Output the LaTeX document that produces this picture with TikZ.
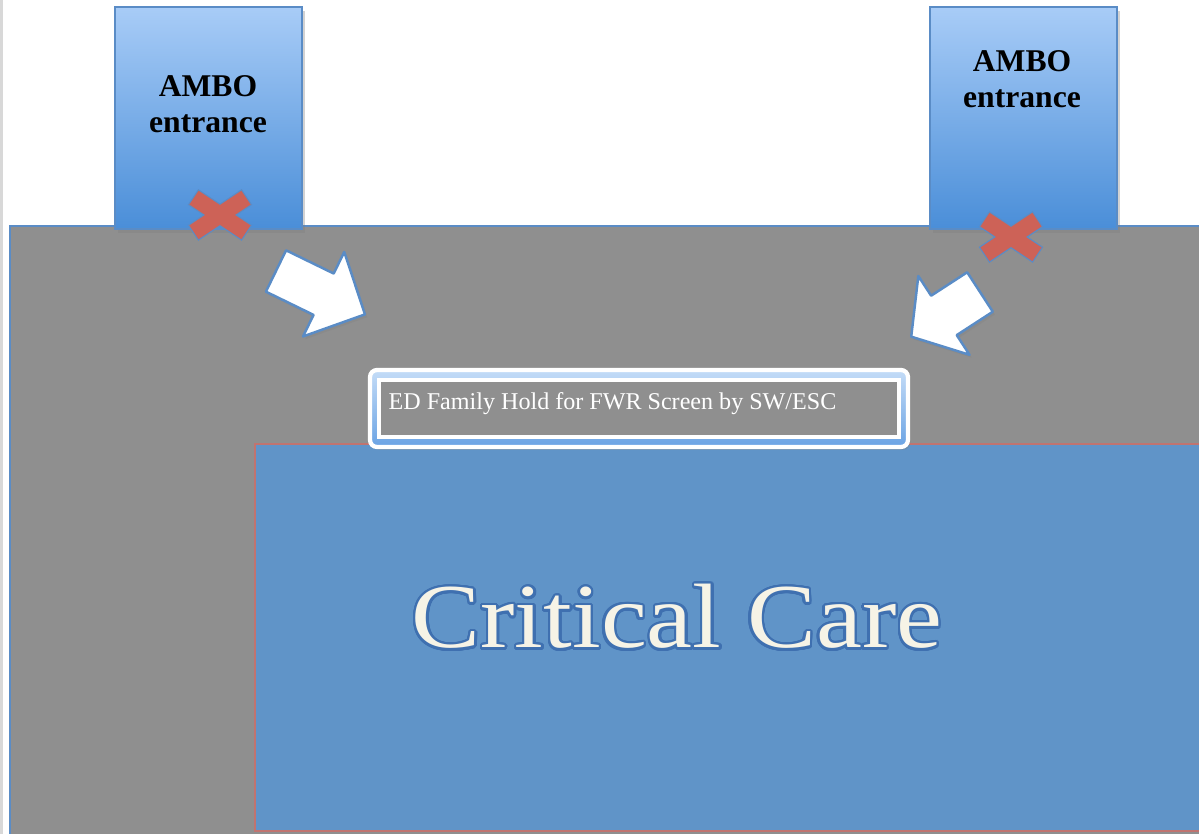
\documentclass[tikz,border=0pt]{standalone}
\usepackage{fontspec}
\setmainfont{Liberation Serif}
\newfontfamily\critfont[FakeStretch=1.13]{Liberation Serif}
\usepackage{xcolor}
\usepackage[copies]{contour}
\contournumber{24}
\usepackage{tikz}
\usetikzlibrary{calc,shadows}
\definecolor{floor}{HTML}{8F8F8F}
\definecolor{edge}{HTML}{5A8CC6}
\definecolor{ambotop}{HTML}{A8CCF7}
\definecolor{ambobot}{HTML}{4A8ED8}
\definecolor{crit}{HTML}{6094C8}
\definecolor{critedge}{HTML}{C07470}
\definecolor{cross}{HTML}{CD6257}
\definecolor{cream}{HTML}{F6F3E6}
\definecolor{glow}{HTML}{3F70B0}
\definecolor{holdtop}{HTML}{C4DCF7}
\definecolor{holdbot}{HTML}{6AA3E4}
\definecolor{pageedge}{HTML}{D8D8D8}
\tikzset{
  wall/.style={fill=floor, draw=edge, line width=0.6pt},
  ambo/.style={top color=ambotop, bottom color=ambobot, draw=edge, line width=0.5pt,
    drop shadow={shadow xshift=0.8pt, shadow yshift=-1.2pt, opacity=0.35}},
  ambolab/.style={font=\fontsize{9}{10.2}\selectfont\bfseries, align=center, text=black, inner sep=0pt},
  xedge/.style={draw=edge, line width=0.19cm},
  xmark/.style={draw=cross, line width=0.165cm, shorten <=0.012cm, shorten >=0.012cm},
  bigarrow/.style={fill=white, draw=edge, line width=0.7pt, line join=round,
    drop shadow={shadow xshift=0.6pt, shadow yshift=-0.8pt, opacity=0.3}},
  critroom/.style={fill=crit, draw=critedge, line width=0.6pt},
  critlab/.style={font=\critfont\fontsize{26}{30}\selectfont, text=cream, inner sep=0pt},
  holdframe/.style={top color=holdtop, bottom color=holdbot, draw=white, line width=1.2pt,
    rounded corners=2pt, drop shadow={shadow xshift=0.6pt, shadow yshift=-0.8pt, opacity=0.35}},
  holdinner/.style={fill=floor, draw=white, line width=0.9pt},
  holdlab/.style={font=\fontsize{6.85}{8}\selectfont, text=white, inner sep=0pt}
}
\contourlength{0.7pt}

\begin{document}
\begin{tikzpicture}[x=0.01cm, y=-0.01cm]
  \useasboundingbox (0,0) rectangle (1199,834);
  \fill[white] (0,0) rectangle (1199,834);
  \draw[pageedge, line width=0.6pt] (1.5,0) -- (1.5,834);

  % main floor of the department
  \draw[wall] (10,226) rectangle (1215,850);

  % ambulance entrances
  \draw[ambo] (115,7) rectangle (302,229);
  \draw[ambo] (930,7) rectangle (1117,229);
  \node[ambolab] (amboL) at (208,104) {AMBO\\entrance};
  \node[ambolab] (amboR) at (1022,79) {AMBO\\entrance};

  % closed doors
  \coordinate (xL) at (220,215);
  \coordinate (xR) at (1011,237);
  \foreach \c in {xL,xR}{
    \draw[xedge] ($(\c)+(-27,-18)$) -- ($(\c)+(27,18)$);
    \draw[xedge] ($(\c)+(-27,18)$) -- ($(\c)+(27,-18)$);
    \draw[xmark] ($(\c)+(-27,-18)$) -- ($(\c)+(27,18)$);
    \draw[xmark] ($(\c)+(-27,18)$) -- ($(\c)+(27,-18)$);
  }

  % flow towards the hold area
  \draw[bigarrow, shift={(276,271)}, rotate=-26]
    (0,-23) -- (53,-23) -- (53,-47) -- (99,0) -- (53,47) -- (53,23) -- (0,23) -- cycle;
  \draw[bigarrow, shift={(980,292)}, rotate=213]
    (0,-23.5) -- (43,-23.5) -- (43,-47) -- (82,0) -- (43,47) -- (43,23.5) -- (0,23.5) -- cycle;

  % critical care room
  \draw[critroom] (255,444) rectangle (1215,831);
  \node[critlab, anchor=base] (critcare) at (677,648) {\contour{glow}{Critical Care}};

  % family hold box
  \draw[holdframe] (370,370) rectangle (908,447);
  \draw[holdinner] (379,380) rectangle (899,437);
  \node[holdlab, anchor=base west] (hold) at (388,410) {ED Family Hold for FWR Screen by SW/ESC};
\end{tikzpicture}
\end{document}
